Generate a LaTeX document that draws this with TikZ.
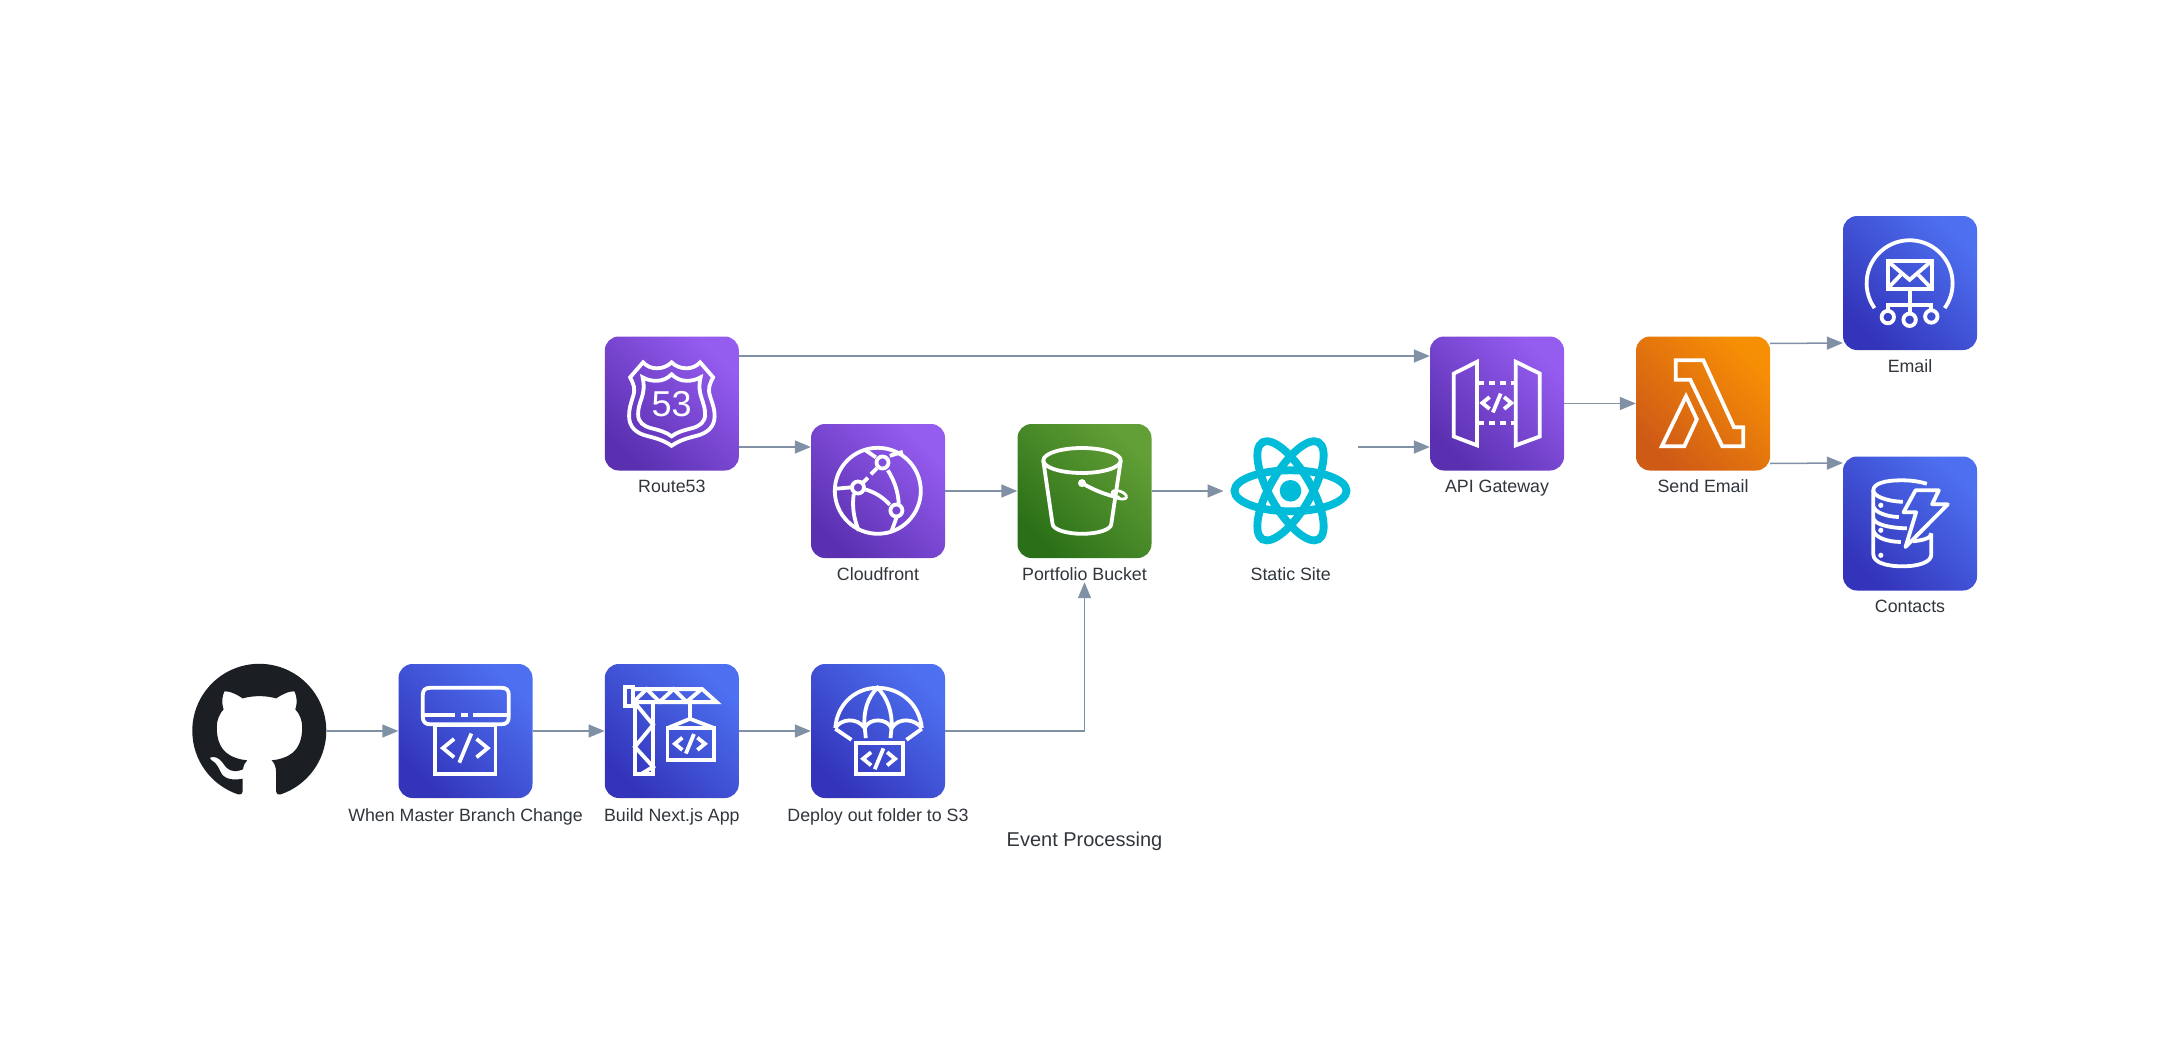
\documentclass[tikz,border=0pt]{standalone}
\usepackage{fontspec}
\setmainfont{Liberation Sans}
\usetikzlibrary{arrows.meta,svg.path}
\definecolor{bluea}{HTML}{3334BA}\definecolor{blueb}{HTML}{4D70F0}
\definecolor{purpa}{HTML}{5A30B0}\definecolor{purpb}{HTML}{955CF0}
\definecolor{greena}{HTML}{2B7018}\definecolor{greenb}{HTML}{629F36}
\definecolor{orangea}{HTML}{CF5A16}\definecolor{orangeb}{HTML}{F78F05}
\definecolor{linec}{HTML}{8091A5}
\definecolor{txt}{HTML}{30363C}
\definecolor{reactc}{HTML}{00BCD9}
\definecolor{ghc}{HTML}{1B1F23}
\newcommand\cdmk[3]{\begin{scope}[shift={(#1,#2)},scale=#3]
\draw[ic] (-0.5,-0.41) -- (-1,0) -- (-0.5,0.41);
\draw[ic] (0.5,-0.41) -- (1,0) -- (0.5,0.41);
\draw[ic] (0.27,-0.65) -- (-0.27,0.65);
\end{scope}}
\tikzset{
 ic/.style={draw=white,line width=3.8,line join=miter,fill=none},
 iconbox/.style n args={2}{minimum size=134,inner sep=0,rounded corners=14,bottom color=#1,top color=#2,shading angle=-45,draw=none},
 plainbox/.style={minimum size=134,inner sep=0,draw=none},
 lbl/.style={anchor=base,font=\fontsize{17.8}{20}\selectfont,text=txt,inner sep=0},
 conn/.style={draw=linec,line width=1.5,-{Triangle[length=16,width=13,color=linec]}},
 pics/route53/.style={code={
  \draw[ic] (38.5,26) .. controls (42,30) and (47,32) .. (52,32) .. controls (58,32) and (63,30) .. (67,26) .. controls (71,30) and (76,32) .. (82,32) .. controls (87,32) and (92,30) .. (95.5,26) -- (108.5,41) .. controls (105,48) and (103,52) .. (105.5,60) .. controls (108,68) and (110,72) .. (110,80) .. controls (110,91) and (102,97) .. (92,99.5) .. controls (82,102) and (74,104.5) .. (67,109.5) .. controls (60,104.5) and (52,102) .. (42,99.5) .. controls (32,97) and (24.5,91) .. (24.5,80) .. controls (24.5,72) and (26,68) .. (28.5,60) .. controls (31,52) and (29,48) .. (25.5,41) -- cycle;
  \draw[ic] (38,41) .. controls (43,44) and (48,44.5) .. (52,44.5) .. controls (58,44.5) and (63,42) .. (67,38) .. controls (71,42) and (76,44.5) .. (82,44.5) .. controls (86,44.5) and (91,44) .. (96,41) .. controls (94,50) and (95,56) .. (97,62) .. controls (99,68) and (100.5,72) .. (100.5,78) .. controls (100.5,86) and (95,90) .. (87,92) .. controls (79,94) and (72,96) .. (67,100) .. controls (62,96) and (55,94) .. (47,92) .. controls (39,90) and (33.5,86) .. (33.5,78) .. controls (33.5,72) and (35,68) .. (37,62) .. controls (39,56) and (40,50) .. (38,41) -- cycle;
  \node[text=white,inner sep=0,font=\fontsize{36}{36}\selectfont] (r53num) at (67,68) {53};
 }},
 pics/cloudfront/.style={code={
  \draw[ic] (67,67) circle[radius=43];
  \draw[ic] (71.7,38.7) circle[radius=6];
  \draw[ic] (47.2,63.7) circle[radius=6];
  \draw[ic] (85.6,86.7) circle[radius=6];
  \draw[ic] (66,44.5) -- (60,50.5) (57,54) -- (52,59);
  \draw[ic] (54,65.5) .. controls (63,68) and (72,73) .. (79,81);
  \draw[ic] (77,46.5) .. controls (83,56) and (87,66) .. (88,80);
  \draw[ic] (24,65) -- (41,63.5);
  \draw[ic] (43,70) .. controls (41,82) and (43,95) .. (48,107);
  \draw[ic] (54,26) -- (65,33.5) (79,32) -- (92,28);
  \draw[ic] (86,93) -- (80.5,108);
 }},
 pics/bucket/.style={code={
  \draw[ic] (26,37) -- (35.2,100) .. controls (35.5,106) and (50,110) .. (64.7,110) .. controls (80,110) and (94,106) .. (94,100) -- (103.4,37);
  \draw[ic] (64.7,36.7) ellipse[x radius=38.7,y radius=12.5];
  \draw[ic] (64.7,59.3) .. controls (76,66) and (88,71) .. (102,74);
  \fill[white] (64.7,59.3) circle[radius=4];
  \draw[ic,line width=2.8] (102,71) ellipse[x radius=7.5,y radius=3.6,rotate=20];
 }},
 pics/reactlogo/.style={code={
  \foreach \a in {0,60,120}{\draw[draw=reactc,line width=7.8,fill=none] (67,67) ellipse[x radius=56,y radius=20.5,rotate=\a];}
  \fill[reactc] (67,67) circle[radius=10.8];
 }},
 pics/apigw/.style={code={
  \draw[ic] (24,37.3) -- (47.2,25.5) -- (47.2,109) -- (24,100.2) -- cycle;
  \draw[ic] (110,37.3) -- (86,25.5) -- (86,109) -- (110,100.2) -- cycle;
  \draw[ic,dash pattern=on 6 off 5] (48,46.7) -- (86,46.7);
  \draw[ic,dash pattern=on 6 off 5] (48,86.7) -- (86,86.7);
  \cdmk{67}{66.7}{14.5}
 }},
 pics/lambdaicon/.style={code={
  \draw[ic] (40,24) -- (67.5,24) -- (98.2,91) -- (107.5,91) -- (107.5,110) -- (86.5,110) -- (54.5,43.5) -- (40,43.5) -- cycle;
  \draw[ic] (50.2,60) -- (61,83) -- (48.5,110) -- (26,110) -- cycle;
 }},
 pics/emailicon/.style={code={
  \draw[ic] (31.7,92.3) arc[start angle=144.7,end angle=395.3,radius=43];
  \draw[ic] (44.8,45.2) rectangle (88.8,72.8);
  \draw[ic] (44.8,45.2) -- (66.8,64) -- (88.8,45.2);
  \draw[ic] (44.8,72.8) -- (58,59) (88.8,72.8) -- (75.5,59);
  \draw[ic] (66.8,73.3) -- (66.8,97.5);
  \draw[ic] (45,94.5) -- (45,89) -- (88.5,89) -- (88.5,94);
  \draw[ic] (45,101.3) circle[radius=6.2];
  \draw[ic] (66.8,104) circle[radius=6.2];
  \draw[ic] (88.5,100.7) circle[radius=6.2];
 }},
 pics/dynamoicon/.style={code={
  \draw[ic] (84,27.5) .. controls (74,24.5) and (66,24) .. (58,24) .. controls (43,24) and (30.5,27) .. (30.5,34) .. controls (30.5,40) and (44,45) .. (60,45.5);
  \draw[ic] (30.5,34) -- (30.5,98) .. controls (30.5,106) and (43,110) .. (59.5,110) .. controls (76,110) and (88.5,106) .. (88.5,98) -- (88.5,77);
  \draw[ic] (30.5,50) .. controls (32,56) and (44,60.5) .. (56,60.7);
  \draw[ic] (30.5,62) .. controls (32,68) and (46,71.7) .. (64,72);
  \draw[ic] (30.5,74) .. controls (32,81) and (44,85.5) .. (58,85.7);
  \draw[ic] (70,85) .. controls (80,84) and (88.5,82) .. (88.5,77);
  \fill[white] (38,49) circle[radius=2.6] (38,74) circle[radius=2.6] (38,99) circle[radius=2.6];
  \draw[ic,line join=round] (72.7,34) -- (96,34) -- (89.3,48) -- (105,48) -- (62.7,90.7) -- (73.3,56) -- (60.7,56) -- cycle;
 }},
 pics/branchicon/.style={code={
  \draw[ic] (24.5,31.3) .. controls (24.5,26) and (27,24) .. (32,24) -- (103,24) .. controls (108,24) and (110.5,26) .. (110.5,31.3) -- (110.5,53) .. controls (110.5,58) and (108,60.5) .. (103,60.5) -- (32,60.5) .. controls (27,60.5) and (24.5,58) .. (24.5,53) -- cycle;
  \draw[ic] (24,51) -- (56.6,51) (62.4,51) -- (69.3,51) (75,51) -- (111,51);
  \draw[ic] (36.9,61) rectangle (97.1,110.5);
  \cdmk{67}{84.3}{22.4}
 }},
 pics/buildicon/.style={code={
  \draw[ic] (20.5,23.2) rectangle (28.7,42.2);
  \draw[ic] (28.7,25.3) -- (97.6,25.3) -- (112,38.3) -- (28.7,38.3);
  \draw[ic] (29,38) -- (42,25.3) -- (55,38) -- (69,25.3) -- (82,38) -- (97,25.3);
  \draw[ic] (30.3,40) -- (30.3,110.5) -- (48.5,110.5) -- (48.5,40);
  \draw[ic] (30.3,39) -- (48.5,61) -- (30.3,83) -- (48.5,103) -- (36,110.5);
  \draw[ic] (85.3,38.3) -- (85.3,55);
  \draw[ic] (62.9,64.3) -- (85.3,55) -- (109.7,64.3);
  \draw[ic] (62.9,64.3) rectangle (109.7,96.2);
  \cdmk{85.3}{80}{15}
 }},
 pics/deployicon/.style={code={
  \draw[ic] (24.5,64.3) .. controls (26,41) and (44,24) .. (66.7,24) .. controls (90,24) and (109,41) .. (111,64.3);
  \draw[ic] (24.5,64.3) .. controls (30,55) and (46,53) .. (54,64.3) .. controls (58,54) and (76,54) .. (80.7,64.3) .. controls (88,53) and (104,55) .. (111,64.3);
  \draw[ic] (54,64.3) .. controls (52,48) and (57,33) .. (66.7,24) .. controls (76,33) and (82,48) .. (80.7,64.3);
  \draw[ic] (24.5,65) -- (40.7,76) (54,64.3) -- (55,74.3) (80.7,64.3) -- (79.7,74.3) (111,65) -- (95.7,76);
  \draw[ic] (45.5,79.2) rectangle (91.8,110.5);
  \cdmk{68.3}{95}{16}
 }},
}
\begin{document}
\begin{tikzpicture}[x=1pt,y=1pt,yscale=-1]
\useasboundingbox (0,0) rectangle (2170,1046);
\fill[white] (0,0) rectangle (2170,1046);
% nodes
\node[plainbox] (gh) at (259.5,731) {};
\node[iconbox={bluea}{blueb}] (when) at (465.5,731) {};
\node[iconbox={bluea}{blueb}] (build) at (671.8,731) {};
\node[iconbox={bluea}{blueb}] (deploy) at (878,731) {};
\node[iconbox={purpa}{purpb}] (route) at (671.8,403.5) {};
\node[iconbox={purpa}{purpb}] (cf) at (878,491) {};
\node[iconbox={greena}{greenb}] (bucket) at (1084.5,491) {};
\node[plainbox] (react) at (1290.7,491) {};
\node[iconbox={purpa}{purpb}] (api) at (1497,403.5) {};
\node[iconbox={orangea}{orangeb}] (lambda) at (1703,403.5) {};
\node[iconbox={bluea}{blueb}] (email) at (1910,283) {};
\node[iconbox={bluea}{blueb}] (contacts) at (1910,523.5) {};
% github mark
\begin{scope}[shift={(gh.north west)},scale=8.375]
\fill[ghc] svg "M 8 0 C 3.58 0 0 3.58 0 8 c 0 3.54 2.29 6.53 5.47 7.59 c 0.4 0.07 0.55 -0.17 0.55 -0.38 c 0 -0.19 -0.01 -0.82 -0.01 -1.49 c -2.01 0.37 -2.53 -0.49 -2.69 -0.94 c -0.09 -0.23 -0.48 -0.94 -0.82 -1.13 c -0.28 -0.15 -0.68 -0.52 -0.01 -0.53 c 0.63 -0.01 1.08 0.58 1.23 0.82 c 0.72 1.21 1.87 0.87 2.33 0.66 c 0.07 -0.52 0.28 -0.87 0.51 -1.07 c -1.78 -0.2 -3.64 -0.89 -3.64 -3.95 c 0 -0.87 0.31 -1.59 0.82 -2.15 c -0.08 -0.2 -0.36 -1.02 0.08 -2.12 c 0 0 0.67 -0.21 2.2 0.82 c 0.64 -0.18 1.32 -0.27 2 -0.27 c 0.68 0 1.36 0.09 2 0.27 c 1.53 -1.04 2.2 -0.82 2.2 -0.82 c 0.44 1.1 0.16 1.92 0.08 2.12 c 0.51 0.56 0.82 1.27 0.82 2.15 c 0 3.07 -1.87 3.75 -3.65 3.95 c 0.29 0.25 0.54 0.73 0.54 1.48 c 0 1.07 -0.01 1.93 -0.01 2.2 c 0 0.21 0.15 0.46 0.55 0.38 C 13.71 14.53 16 11.53 16 8 c 0 -4.42 -3.58 -8 -8 -8 z";
\end{scope}
% icons
\pic[yscale=-1] at (when.north west) {branchicon};
\pic[yscale=-1] at (build.north west) {buildicon};
\pic[yscale=-1] at (deploy.north west) {deployicon};
\pic[yscale=-1] at (route.north west) {route53};
\pic[yscale=-1] at (cf.north west) {cloudfront};
\pic[yscale=-1] at (bucket.north west) {bucket};
\pic[yscale=-1] at (react.north west) {reactlogo};
\pic[yscale=-1] at (api.north west) {apigw};
\pic[yscale=-1] at (lambda.north west) {lambdaicon};
\pic[yscale=-1] at (email.north west) {emailicon};
\pic[yscale=-1] at (contacts.north west) {dynamoicon};
% labels
\node[lbl] (whenl) at ([yshift=23]when.south) {When Master Branch Change};
\node[lbl] (buildl) at ([yshift=23]build.south) {Build Next.js App};
\node[lbl] (deployl) at ([yshift=23]deploy.south) {Deploy out folder to S3};
\node[lbl] (routel) at ([yshift=21.5]route.south) {Route53};
\node[lbl] (cfl) at ([yshift=22]cf.south) {Cloudfront};
\node[lbl] (bucketl) at ([yshift=22]bucket.south) {Portfolio Bucket};
\node[lbl] (reactl) at ([yshift=22]react.south) {Static Site};
\node[lbl] (apil) at ([yshift=21.5]api.south) {API Gateway};
\node[lbl] (lambdal) at ([yshift=21.5]lambda.south) {Send Email};
\node[lbl] (emaill) at ([yshift=22]email.south) {Email};
\node[lbl] (contactsl) at ([yshift=21.5]contacts.south) {Contacts};
\node[lbl,font=\fontsize{20}{22}\selectfont] (title) at (1084.5,846) {Event Processing};
% connectors
\draw[conn] (gh.east) -- (when.west);
\draw[conn] (when.east) -- (build.west);
\draw[conn] (build.east) -- (deploy.west);
\draw[conn] (deploy.east) -- (bucket.south |- deploy.east) -- ([yshift=24]bucket.south);
\draw[conn] ([yshift=43.5]route.east) -- ([yshift=-44]cf.west);
\draw[conn] ([yshift=-47.5]route.east) -- ([yshift=-47.5]api.west);
\draw[conn] (cf.east) -- (bucket.west);
\draw[conn] (bucket.east) -- (react.west);
\draw[conn] ([yshift=-44]react.east) -- ([yshift=43.5]api.west);
\draw[conn] (api.east) -- (lambda.west);
\draw[conn] ([yshift=-60]lambda.east) -- ([yshift=60]email.west);
\draw[conn] ([yshift=60]lambda.east) -- ([yshift=-60.5]contacts.west);
\end{tikzpicture}
\end{document}
